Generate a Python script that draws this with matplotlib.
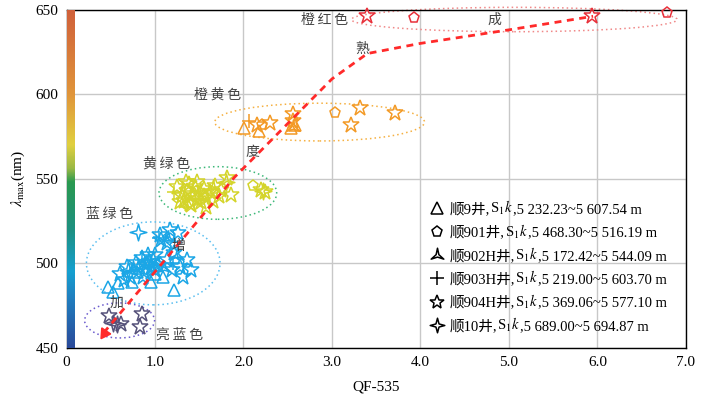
import numpy as np
import matplotlib
matplotlib.use('Agg')
from matplotlib import pyplot as plt
from matplotlib.colors import LinearSegmentedColormap
from matplotlib.patches import Ellipse
from matplotlib.lines import Line2D
from matplotlib.path import Path
from matplotlib.offsetbox import TextArea, HPacker, VPacker, DrawingArea, AnchoredOffsetbox

plt.rcParams['font.family'] = ['Liberation Serif', 'Noto Sans CJK SC', 'DejaVu Serif']
plt.rcParams['mathtext.fontset'] = 'stix'

# colour groups
group_colors = {'lb': '#56527a', 'bg': '#1ba6e6', 'yg': '#d4d42a', 'oy': '#f39a26', 'or': '#e8303a'}

# 顺9井 (triangles)
s9_x = [0.47, 0.53, 0.585, 0.74, 0.96, 1.09, 1.22, 0.80, 1.00, 1.35, 1.55, 2.01, 2.18, 2.54, 2.58]
s9_y = [486, 483, 488.5, 489, 489, 492, 484, 495, 494, 537, 541, 580, 578, 580, 582]
s9_g = ['bg'] * 9 + ['yg'] * 2 + ['oy'] * 4

# 顺901井 (pentagons)
s901_x = [1.00, 2.11, 2.21, 3.03, 3.93, 6.79]
s901_y = [498, 546, 582, 589, 645.2, 648.1]
s901_g = ['bg', 'yg', 'oy', 'oy', 'or', 'or']

# 顺902H井 (three-point stars)
s902_x = [0.90, 1.10, 1.25, 0.75, 1.15, 1.45, 1.65, 2.56]
s902_y = [500, 497, 505, 497, 515, 540, 545, 580.8]
s902_g = ['bg'] * 5 + ['yg'] * 2 + ['oy']

# 顺903H井 (crosses)
s903_x = [1.05, 0.85, 1.20, 1.21, 1.50, 2.06]
s903_y = [515, 502, 500, 542.4, 538, 584]
s903_g = ['bg'] * 3 + ['yg'] * 2 + ['oy']

# 顺904H井 (stars)
s904_x = [0.48, 0.62, 0.85, 0.83,
          0.60, 0.68, 0.72, 0.78, 0.82, 0.85, 0.88, 0.90, 0.93, 0.95, 0.98, 1.00, 1.03, 0.86, 0.92,
          1.17, 1.26, 1.07, 1.13, 1.22, 1.06, 1.22, 1.36, 1.41, 1.32, 1.19, 1.13, 1.28, 0.65, 1.00,
          1.25, 1.30, 1.33, 1.36, 1.38, 1.40, 1.42, 1.45, 1.47, 1.50, 1.52, 1.55, 1.58, 1.58, 1.41,
          1.62, 1.65, 1.68, 1.72, 1.75, 1.81, 1.86, 1.35, 1.28, 1.48, 2.20, 2.24,
          2.15, 2.30, 2.56, 2.56, 3.22, 3.32, 3.71,
          3.39, 5.94]
s904_y = [469, 464, 470, 462.6,
          494, 498, 492, 500, 497, 503, 495, 499, 501, 497, 502, 496, 499, 492, 505,
          519.7, 517.8, 513.8, 511.9, 510.9, 516.8, 506, 502, 496, 492, 496, 502, 498, 490, 505,
          545, 540, 537, 543, 547, 535, 541, 545, 538, 541, 536, 544, 539, 533.5, 534.5,
          542, 537, 546, 540, 543.4, 550.3, 540.4, 548, 536, 548, 543.4, 542.4,
          582, 583, 588, 584, 582, 591.6, 588.7,
          646.3, 646.3]
s904_g = ['lb'] * 4 + ['bg'] * 30 + ['yg'] * 27 + ['oy'] * 7 + ['or'] * 2

# 顺10井 (four-point stars)
s10_x = [0.53, 0.57, 0.81, 0.70, 2.22, 1.80]
s10_y = [465, 464, 518.7, 496, 543, 548]
s10_g = ['lb', 'lb', 'bg', 'bg', 'yg', 'yg']

legend_wells = ['顺9井,', '顺901井,', '顺902H井,', '顺903H井,', '顺904H井,', '顺10井,']
legend_depths = [',5 232.23~5 607.54 m', ',5 468.30~5 516.19 m', ',5 172.42~5 544.09 m',
                 ',5 219.00~5 603.70 m', ',5 369.06~5 577.10 m', ',5 689.00~5 694.87 m']

# maturity trend line
trend_x = [0.42, 1.90, 3.00, 3.40, 4.00, 5.00, 5.95]
trend_y = [459, 551, 609, 624, 630, 638, 646]

# dotted colour zones: centre x, centre y, width, height, colour
zone_cx = [0.60, 0.98, 1.71, 2.86, 5.06]
zone_cy = [466.3, 500, 541.6, 583.5, 644.1]
zone_w = [0.79, 1.51, 1.33, 2.37, 3.68]
zone_h = [20.7, 49, 31.1, 22.3, 14.4]
zone_c = ['#6a5acd', '#5bbff0', '#3cb878', '#f5b041', '#f08888']

# annotation texts
note_txt = ['橙红色', '成', '熟', '橙黄色', '度', '黄绿色', '增', '蓝绿色', '加', '亮蓝色']
note_x = [2.92, 4.84, 3.34, 1.71, 2.10, 1.13, 1.26, 0.49, 0.57, 1.28]
note_y = [643.6, 644, 627, 599.5, 566, 559, 510, 529, 476.6, 458]

# spectrum strip
spec_nm = [450, 480, 495, 520, 548, 556, 570, 600, 650]
spec_col = ['#2a4a9a', '#2080c0', '#15a0d0', '#1e9080', '#2a9a50', '#9ab845', '#e0d040', '#e0953a', '#d0603a']

tri_star = Path.unit_regular_star(3, 0.22)
four_star = Path.unit_regular_star(4, 0.3)

fig = plt.figure(figsize=(7.03, 3.97), dpi=100)
ax = fig.add_axes([0.0946, 0.1234, 0.8812, 0.8526])
ax.set_xlim(0, 7)
ax.set_ylim(450, 650)

cmap = LinearSegmentedColormap.from_list('spec', [((v - 450) / 200, c) for v, c in zip(spec_nm, spec_col)])
grad = np.linspace(0, 1, 256).reshape(-1, 1)
ax.imshow(grad, cmap=cmap, origin='lower', extent=[0, 0.085, 450, 650], aspect='auto', zorder=3)

ax.grid(True, color='#c8c8c8', lw=1)
ax.set_axisbelow(True)

for cx, cy, w, h, c in zip(zone_cx, zone_cy, zone_w, zone_h, zone_c):
    ax.add_patch(Ellipse((cx, cy), w, h, fill=False, ls=(0, (1, 2)), lw=1.1, ec=c, clip_on=False, zorder=2))

ax.plot(trend_x, trend_y, color='#ff2a2a', ls=(0, (2.5, 2)), lw=2, zorder=5)
ax.plot([trend_x[0]], [trend_y[0]], marker=(3, 0, 146), color='#ff2a2a', ms=9, ls='none', zorder=6)

series = [(s9_x, s9_y, s9_g, '^', 9),
          (s901_x, s901_y, s901_g, 'p', 8),
          (s902_x, s902_y, s902_g, tri_star, 11),
          (s903_x, s903_y, s903_g, '+', 10),
          (s904_x, s904_y, s904_g, '*', 12),
          (s10_x, s10_y, s10_g, four_star, 12)]
for xs, ys, gs, mk, sz in series:
    for g in group_colors:
        px = [x for x, gg in zip(xs, gs) if gg == g]
        py = [y for y, gg in zip(ys, gs) if gg == g]
        if px:
            ax.plot(px, py, ls='none', marker=mk, ms=sz, mfc='none', mec=group_colors[g], mew=1.1,
                    color=group_colors[g], clip_on=False, zorder=4)

for t, x, y in zip(note_txt, note_x, note_y):
    ax.text(x, y, '\u2009'.join(t) if len(t) > 1 else t, ha='center', va='center', fontsize=10,
            color='#444444', family=['Noto Sans CJK SC', 'DejaVu Sans'], zorder=7)

# legend built by hand so the Chinese text and the S1k formation name can be mixed
fs = 10.5
rows = []
for (_, _, _, mk, sz), well, depth in zip(series, legend_wells, legend_depths):
    da = DrawingArea(16, 12, 0, 2.5)
    da.add_artist(Line2D([7], [3.5], ls='none', marker=mk, ms=min(sz, 10.5), mfc='none', mec='black', mew=1.1))
    parts = [da,
             TextArea(well, textprops=dict(fontsize=fs)),
             TextArea(r'S$_{\rm 1}\it{k}$', textprops=dict(fontsize=fs)),
             TextArea(depth, textprops=dict(fontsize=fs))]
    rows.append(HPacker(children=parts, align='baseline', pad=0, sep=0))
box = VPacker(children=rows, align='left', pad=0, sep=3.8)
leg = AnchoredOffsetbox(loc='upper left', child=box, bbox_to_anchor=(0.583, 0.44),
                        bbox_transform=ax.transAxes, frameon=False, pad=0, borderpad=0)
ax.add_artist(leg)

ax.set_xticks(np.arange(0, 8, 1))
ax.set_xticklabels(['0'] + ['%.1f' % v for v in range(1, 8)])
ax.set_yticks([450, 500, 550, 600, 650])
ax.tick_params(length=0, labelsize=11, pad=6)
for s in ax.spines.values():
    s.set_linewidth(1)
ax.set_xlabel('QF-535', fontsize=11, labelpad=8)
ax.set_ylabel(r'$\lambda_{\rm max}$(nm)', fontsize=11, labelpad=6)

fig.savefig('out.png', dpi=100)
